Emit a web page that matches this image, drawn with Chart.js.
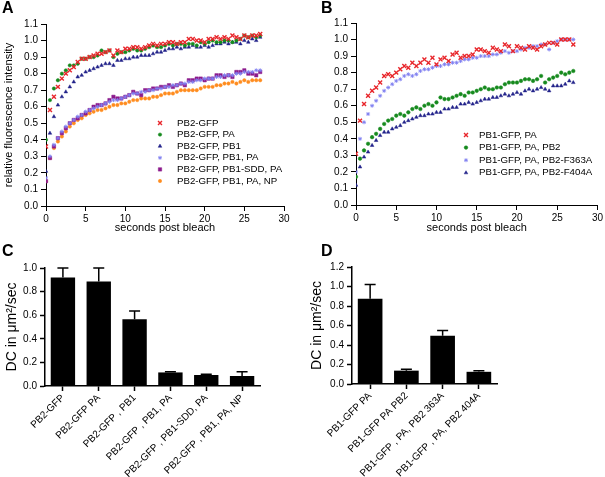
<!DOCTYPE html>
<html>
<head>
<meta charset="utf-8">
<title>FRAP recovery and diffusion coefficients</title>
<script src="https://cdn.jsdelivr.net/npm/chart.js@4/dist/chart.umd.min.js"></script>
<style>
  body { margin: 0; background: #fff; }
  #wrap { position: relative; width: 605px; height: 477px; overflow: hidden; }
  #wrap canvas { position: absolute; }
  .tag { position: absolute; font: bold 16px Arial, "Liberation Sans", sans-serif; line-height: 15px; color: #000; }
</style>
</head>
<body>
<div id="wrap">
  <canvas id="chartA" width="300" height="240" style="left:0;top:0"></canvas>
  <canvas id="chartB" width="305" height="240" style="left:300px;top:0"></canvas>
  <canvas id="chartC" width="300" height="237" style="left:0;top:240px"></canvas>
  <canvas id="chartD" width="305" height="237" style="left:300px;top:240px"></canvas>
  <div class="tag" style="left:2px;top:0">A</div>
  <div class="tag" style="left:321px;top:0">B</div>
  <div class="tag" style="left:2px;top:243px">C</div>
  <div class="tag" style="left:321px;top:243px">D</div>
</div>
<script>
// seconds post bleach
var seconds = [0, 0.5, 1, 1.5, 2, 2.5, 3, 3.5, 4, 4.5,
  5, 5.5, 6, 6.5, 7, 7.5, 8, 8.5, 9, 9.5,
  10, 10.5, 11, 11.5, 12, 12.5, 13, 13.5, 14, 14.5,
  15, 15.5, 16, 16.5, 17, 17.5, 18, 18.5, 19, 19.5,
  20, 20.5, 21, 21.5, 22, 22.5, 23, 23.5, 24, 24.5,
  25, 25.5, 26, 26.5, 27];

// panel A - relative fluorescence intensity
var labelsA = ['PB2-GFP', 'PB2-GFP, PA', 'PB2-GFP, PB1', 'PB2-GFP, PB1, PA', 'PB2-GFP, PB1-SDD, PA', 'PB2-GFP, PB1, PA, NP'];
var pb2 = [0.36, 0.58, 0.66, 0.72, 0.77, 0.80, 0.82, 0.84, 0.87, 0.89,
  0.89, 0.90, 0.91, 0.92, 0.92, 0.93, 0.94, 0.91, 0.94, 0.93,
  0.95, 0.95, 0.96, 0.96, 0.95, 0.96, 0.97, 0.98, 0.97, 0.98,
  0.98, 0.99, 0.99, 0.98, 0.99, 0.99, 1.01, 1.01, 1.00, 1.00,
  0.99, 1.01, 1.01, 1.02, 1.01, 1.02, 1.01, 1.03, 1.02, 1.01,
  1.03, 1.02, 1.03, 1.03, 1.04];
var pb2Pa = [0.40, 0.64, 0.71, 0.76, 0.80, 0.82, 0.85, 0.85, 0.86, 0.89,
  0.89, 0.90, 0.90, 0.91, 0.94, 0.93, 0.94, 0.90, 0.92, 0.93,
  0.93, 0.94, 0.95, 0.94, 0.94, 0.95, 0.96, 0.97, 0.96, 0.96,
  0.97, 0.98, 0.97, 0.98, 0.98, 0.97, 0.98, 0.98, 0.97, 0.99,
  0.98, 0.99, 1.00, 0.99, 0.99, 1.00, 1.00, 0.99, 1.00, 1.01,
  1.03, 1.02, 1.03, 1.02, 1.03];
var pb2Pb1 = [0.21, 0.44, 0.54, 0.61, 0.66, 0.69, 0.72, 0.75, 0.78, 0.79,
  0.81, 0.82, 0.83, 0.84, 0.85, 0.86, 0.86, 0.85, 0.88, 0.88,
  0.89, 0.89, 0.90, 0.90, 0.91, 0.91, 0.91, 0.92, 0.93, 0.93,
  0.94, 0.95, 0.95, 0.96, 0.95, 0.96, 0.96, 0.97, 0.96, 0.96,
  0.97, 0.96, 0.97, 0.98, 0.98, 0.99, 0.98, 0.99, 0.99, 0.98,
  1.00, 0.99, 1.01, 1.00, 1.02];
var pb2Pb1Pa = [0.17, 0.30, 0.37, 0.41, 0.45, 0.48, 0.50, 0.52, 0.54, 0.55,
  0.57, 0.58, 0.59, 0.60, 0.61, 0.62, 0.63, 0.64, 0.64, 0.65,
  0.66, 0.67, 0.68, 0.68, 0.69, 0.69, 0.70, 0.70, 0.71, 0.71,
  0.72, 0.72, 0.73, 0.73, 0.74, 0.74, 0.75, 0.75, 0.76, 0.76,
  0.77, 0.77, 0.77, 0.78, 0.78, 0.79, 0.79, 0.79, 0.80, 0.80,
  0.81, 0.81, 0.81, 0.82, 0.82];
var pb2Sdd = [0.15, 0.29, 0.36, 0.41, 0.44, 0.47, 0.50, 0.52, 0.53, 0.55,
  0.56, 0.58, 0.60, 0.61, 0.61, 0.62, 0.64, 0.66, 0.65, 0.65,
  0.66, 0.67, 0.69, 0.68, 0.67, 0.70, 0.70, 0.71, 0.71, 0.72,
  0.72, 0.73, 0.72, 0.73, 0.74, 0.73, 0.76, 0.76, 0.77, 0.77,
  0.76, 0.77, 0.77, 0.79, 0.79, 0.78, 0.79, 0.78, 0.81, 0.81,
  0.82, 0.80, 0.80, 0.79, 0.81];
var pb2Np = [0.15, 0.29, 0.35, 0.39, 0.42, 0.45, 0.48, 0.50, 0.52, 0.53,
  0.55, 0.56, 0.57, 0.58, 0.58, 0.59, 0.60, 0.61, 0.61, 0.62,
  0.62, 0.63, 0.64, 0.64, 0.65, 0.65, 0.65, 0.66, 0.66, 0.67,
  0.68, 0.68, 0.68, 0.69, 0.70, 0.70, 0.70, 0.70, 0.70, 0.71,
  0.72, 0.72, 0.72, 0.73, 0.73, 0.74, 0.74, 0.75, 0.74, 0.75,
  0.76, 0.75, 0.76, 0.76, 0.76];

// panel B - relative fluorescence intensity
var labelsB = ['PB1-GFP, PA', 'PB1-GFP, PA, PB2', 'PB1-GFP, PA, PB2-F363A', 'PB1-GFP, PA, PB2-F404A'];
var pb1Pa = [0.31, 0.51, 0.61, 0.66, 0.69, 0.71, 0.74, 0.78, 0.79, 0.78,
  0.80, 0.82, 0.84, 0.83, 0.86, 0.84, 0.86, 0.88, 0.86, 0.89,
  0.85, 0.88, 0.89, 0.87, 0.91, 0.92, 0.89, 0.90, 0.90, 0.91,
  0.94, 0.94, 0.93, 0.92, 0.95, 0.94, 0.93, 0.97, 0.96, 0.93,
  0.96, 0.95, 0.94, 0.96, 0.95, 0.94, 0.96, 0.97, 0.98, 0.98,
  0.97, 1.00, 1.00, 1.00, 0.97];
var pb1PaPb2 = [0.17, 0.28, 0.33, 0.37, 0.41, 0.43, 0.46, 0.49, 0.51, 0.52,
  0.54, 0.55, 0.54, 0.56, 0.58, 0.59, 0.58, 0.60, 0.61, 0.60,
  0.62, 0.65, 0.64, 0.64, 0.65, 0.66, 0.67, 0.66, 0.68, 0.68,
  0.69, 0.70, 0.71, 0.70, 0.70, 0.71, 0.71, 0.73, 0.74, 0.74,
  0.74, 0.75, 0.76, 0.76, 0.75, 0.76, 0.78, 0.74, 0.76, 0.77,
  0.78, 0.80, 0.79, 0.80, 0.81];
var pb1F363a = [0.20, 0.40, 0.50, 0.55, 0.60, 0.63, 0.66, 0.69, 0.71, 0.73,
  0.75, 0.76, 0.78, 0.79, 0.78, 0.79, 0.81, 0.82, 0.82, 0.83,
  0.84, 0.84, 0.85, 0.85, 0.86, 0.86, 0.87, 0.88, 0.88, 0.89,
  0.89, 0.90, 0.90, 0.90, 0.91, 0.91, 0.92, 0.93, 0.92, 0.93,
  0.93, 0.94, 0.95, 0.95, 0.96, 0.96, 0.97, 0.97, 0.94, 0.98,
  0.99, 1.00, 1.00, 1.00, 1.00];
var pb1F404a = [0.12, 0.23, 0.29, 0.32, 0.36, 0.39, 0.42, 0.44, 0.44, 0.46,
  0.47, 0.48, 0.50, 0.51, 0.52, 0.53, 0.54, 0.54, 0.55, 0.55,
  0.56, 0.56, 0.58, 0.58, 0.59, 0.59, 0.61, 0.61, 0.62, 0.61,
  0.62, 0.63, 0.64, 0.64, 0.65, 0.65, 0.66, 0.67, 0.66, 0.67,
  0.68, 0.67, 0.69, 0.70, 0.69, 0.70, 0.71, 0.70, 0.69, 0.72,
  0.72, 0.72, 0.73, 0.75, 0.74];

// panel C - diffusion coefficients
var labelsC = ['PB2-GFP', 'PB2-GFP PA', 'PB2-GFP , PB1', 'PB2-GFP , PB1, PA', 'PB2-GFP , PB1-SDD, PA', 'PB2-GFP , PB1, PA, NP'];
var dcC = [0.92, 0.885, 0.565, 0.115, 0.093, 0.085];
var errC = [1.0, 1.0, 0.635, 0.12, 0.1, 0.12];

// panel D - diffusion coefficients
var labelsD = ['PB1-GFP PA', 'PB1-GFP PA PB2', 'PB1-GFP , PA, PB2 363A', 'PB1-GFP , PA, PB2 404A'];
var dcD = [0.875, 0.137, 0.495, 0.125];
var errD = [1.02, 0.152, 0.55, 0.135];

var FONT = 'Arial, "Liberation Sans", sans-serif';
Chart.defaults.font.family = FONT;
Chart.defaults.font.size = 10;
Chart.defaults.color = '#000';
Chart.defaults.animation = false;

function points(values) {
  return values.map(function(v, i) { return { x: seconds[i], y: v }; });
}

function series(label, values, color, style, radius, border) {
  return {
    label: label,
    data: points(values),
    pointStyle: style,
    pointRadius: radius,
    pointBorderWidth: border,
    pointBackgroundColor: color,
    pointBorderColor: color,
    showLine: false
  };
}

// legend drawn inside the plot area
var innerLegend = {
  id: 'innerLegend',
  afterDraw: function(chart, args, opts) {
    var ctx = chart.ctx;
    ctx.save();
    ctx.font = opts.size + 'px ' + FONT;
    ctx.textBaseline = 'middle';
    chart.data.datasets.forEach(function(ds, i) {
      var y = opts.y + i * opts.dy;
      ctx.fillStyle = ds.pointBackgroundColor;
      ctx.strokeStyle = ds.pointBorderColor;
      ctx.lineWidth = ds.pointBorderWidth;
      Chart.helpers.drawPoint(ctx, {
        pointStyle: ds.pointStyle, radius: ds.pointRadius,
        borderWidth: ds.pointBorderWidth, rotation: 0
      }, opts.x, y);
      ctx.fillStyle = '#000';
      ctx.fillText(ds.label, opts.x + opts.dx, y);
    });
    ctx.restore();
  }
};

// upper error bars for the bar panels
var errorBars = {
  id: 'errorBars',
  afterDatasetsDraw: function(chart) {
    var ctx = chart.ctx;
    var ds = chart.data.datasets[0];
    var yScale = chart.scales.y;
    ctx.save();
    ctx.strokeStyle = '#000';
    ctx.lineWidth = 1.5;
    chart.getDatasetMeta(0).data.forEach(function(bar, i) {
      var top = yScale.getPixelForValue(ds.errorTop[i]);
      ctx.beginPath();
      ctx.moveTo(bar.x, bar.y);
      ctx.lineTo(bar.x, top);
      ctx.moveTo(bar.x - 5.5, top);
      ctx.lineTo(bar.x + 5.5, top);
      ctx.stroke();
    });
    ctx.restore();
  }
};

function axisStyle(width) {
  return {
    grid: { drawOnChartArea: false, drawTicks: true, tickLength: 5, tickColor: '#000', tickWidth: width },
    border: { display: true, color: '#000', width: width }
  };
}

function recoveryChart(id, datasets, opts) {
  var xAxis = axisStyle(1);
  var yAxis = axisStyle(1);
  return new Chart(document.getElementById(id), {
    type: 'scatter',
    data: { datasets: datasets },
    options: {
      responsive: false,
      layout: { padding: { top: opts.top, right: opts.right, left: 0, bottom: 0 } },
      plugins: {
        legend: { display: false },
        tooltip: { enabled: false },
        innerLegend: opts.legend
      },
      scales: {
        x: {
          type: 'linear', min: 0, max: 30,
          grid: xAxis.grid, border: xAxis.border,
          ticks: { stepSize: 5, padding: 2, font: { size: 10 } },
          title: { display: true, text: 'seconds post bleach', font: { size: 11 }, padding: { top: 0, bottom: 5 } },
          afterFit: function(scale) { scale.height = opts.xHeight; }
        },
        y: {
          min: 0, max: 1.1,
          grid: yAxis.grid, border: yAxis.border,
          ticks: { stepSize: 0.1, padding: 3, font: { size: 10 },
            callback: function(v) { return v.toFixed(1); } },
          title: { display: opts.yTitle !== '', text: opts.yTitle, font: { size: 11 }, padding: { top: 2, bottom: 0 } },
          afterFit: function(scale) { scale.width = opts.yWidth; }
        }
      }
    },
    plugins: [innerLegend]
  });
}

function dcChart(id, labels, values, errs, opts) {
  var xAxis = axisStyle(1.5);
  var yAxis = axisStyle(1.5);
  xAxis.grid.offset = false;
  return new Chart(document.getElementById(id), {
    type: 'bar',
    data: {
      labels: labels,
      datasets: [{
        data: values,
        errorTop: errs,
        backgroundColor: '#000',
        borderWidth: 0,
        barPercentage: 0.68,
        categoryPercentage: 1
      }]
    },
    options: {
      responsive: false,
      layout: { padding: { top: opts.top, right: opts.right, left: 0, bottom: 0 } },
      plugins: { legend: { display: false }, tooltip: { enabled: false } },
      scales: {
        x: {
          grid: xAxis.grid, border: xAxis.border,
          ticks: { autoSkip: false, maxRotation: 45, minRotation: 45, padding: 1, font: { size: 10 } },
          afterFit: function(scale) { scale.height = opts.xHeight; }
        },
        y: {
          min: 0, max: opts.max,
          grid: yAxis.grid, border: yAxis.border,
          ticks: { stepSize: 0.2, padding: 3, font: { size: 10 },
            callback: function(v) { return v.toFixed(1); } },
          title: { display: true, text: 'DC in \u03bcm\u00b2/sec', font: { size: 14 }, padding: { top: opts.titlePad, bottom: 0 } },
          afterFit: function(scale) { scale.width = opts.yWidth; }
        }
      }
    },
    plugins: [errorBars]
  });
}

recoveryChart('chartA', [
  series(labelsA[0], pb2, '#e8262b', 'crossRot', 2.8, 1.4),
  series(labelsA[1], pb2Pa, '#168a1e', 'circle', 1.7, 0.5),
  series(labelsA[2], pb2Pb1, '#22238a', 'triangle', 2.1, 0.5),
  series(labelsA[3], pb2Pb1Pa, '#7f7ff0', 'star', 2, 0.9),
  series(labelsA[4], pb2Sdd, '#8c1a8c', 'rect', 2.4, 0.5),
  series(labelsA[5], pb2Np, '#ff8c1f', 'circle', 1.7, 0.5)
], {
  top: 24, right: 16, xHeight: 34, yWidth: 46,
  yTitle: 'relative fluorescence intensity',
  legend: { x: 160, y: 123, dx: 17, dy: 11.6, size: 9.7 }
});

recoveryChart('chartB', [
  series(labelsB[0], pb1Pa, '#e8262b', 'crossRot', 2.8, 1.4),
  series(labelsB[1], pb1PaPb2, '#168a1e', 'circle', 1.8, 0.5),
  series(labelsB[2], pb1F363a, '#7f7ff0', 'star', 2, 0.9),
  series(labelsB[3], pb1F404a, '#22238a', 'triangle', 2.1, 0.5)
], {
  top: 23, right: 6, xHeight: 35, yWidth: 56,
  yTitle: '',
  legend: { x: 166, y: 135, dx: 13, dy: 12.6, size: 9.7 }
});

dcChart('chartC', labelsC, dcC, errC, { top: 28, right: 40, xHeight: 91, yWidth: 45, max: 1.0, titlePad: 4 });
dcChart('chartD', labelsD, dcD, errD, { top: 27, right: 108, xHeight: 93, yWidth: 52, max: 1.2, titlePad: 9 });
</script>
</body>
</html>
